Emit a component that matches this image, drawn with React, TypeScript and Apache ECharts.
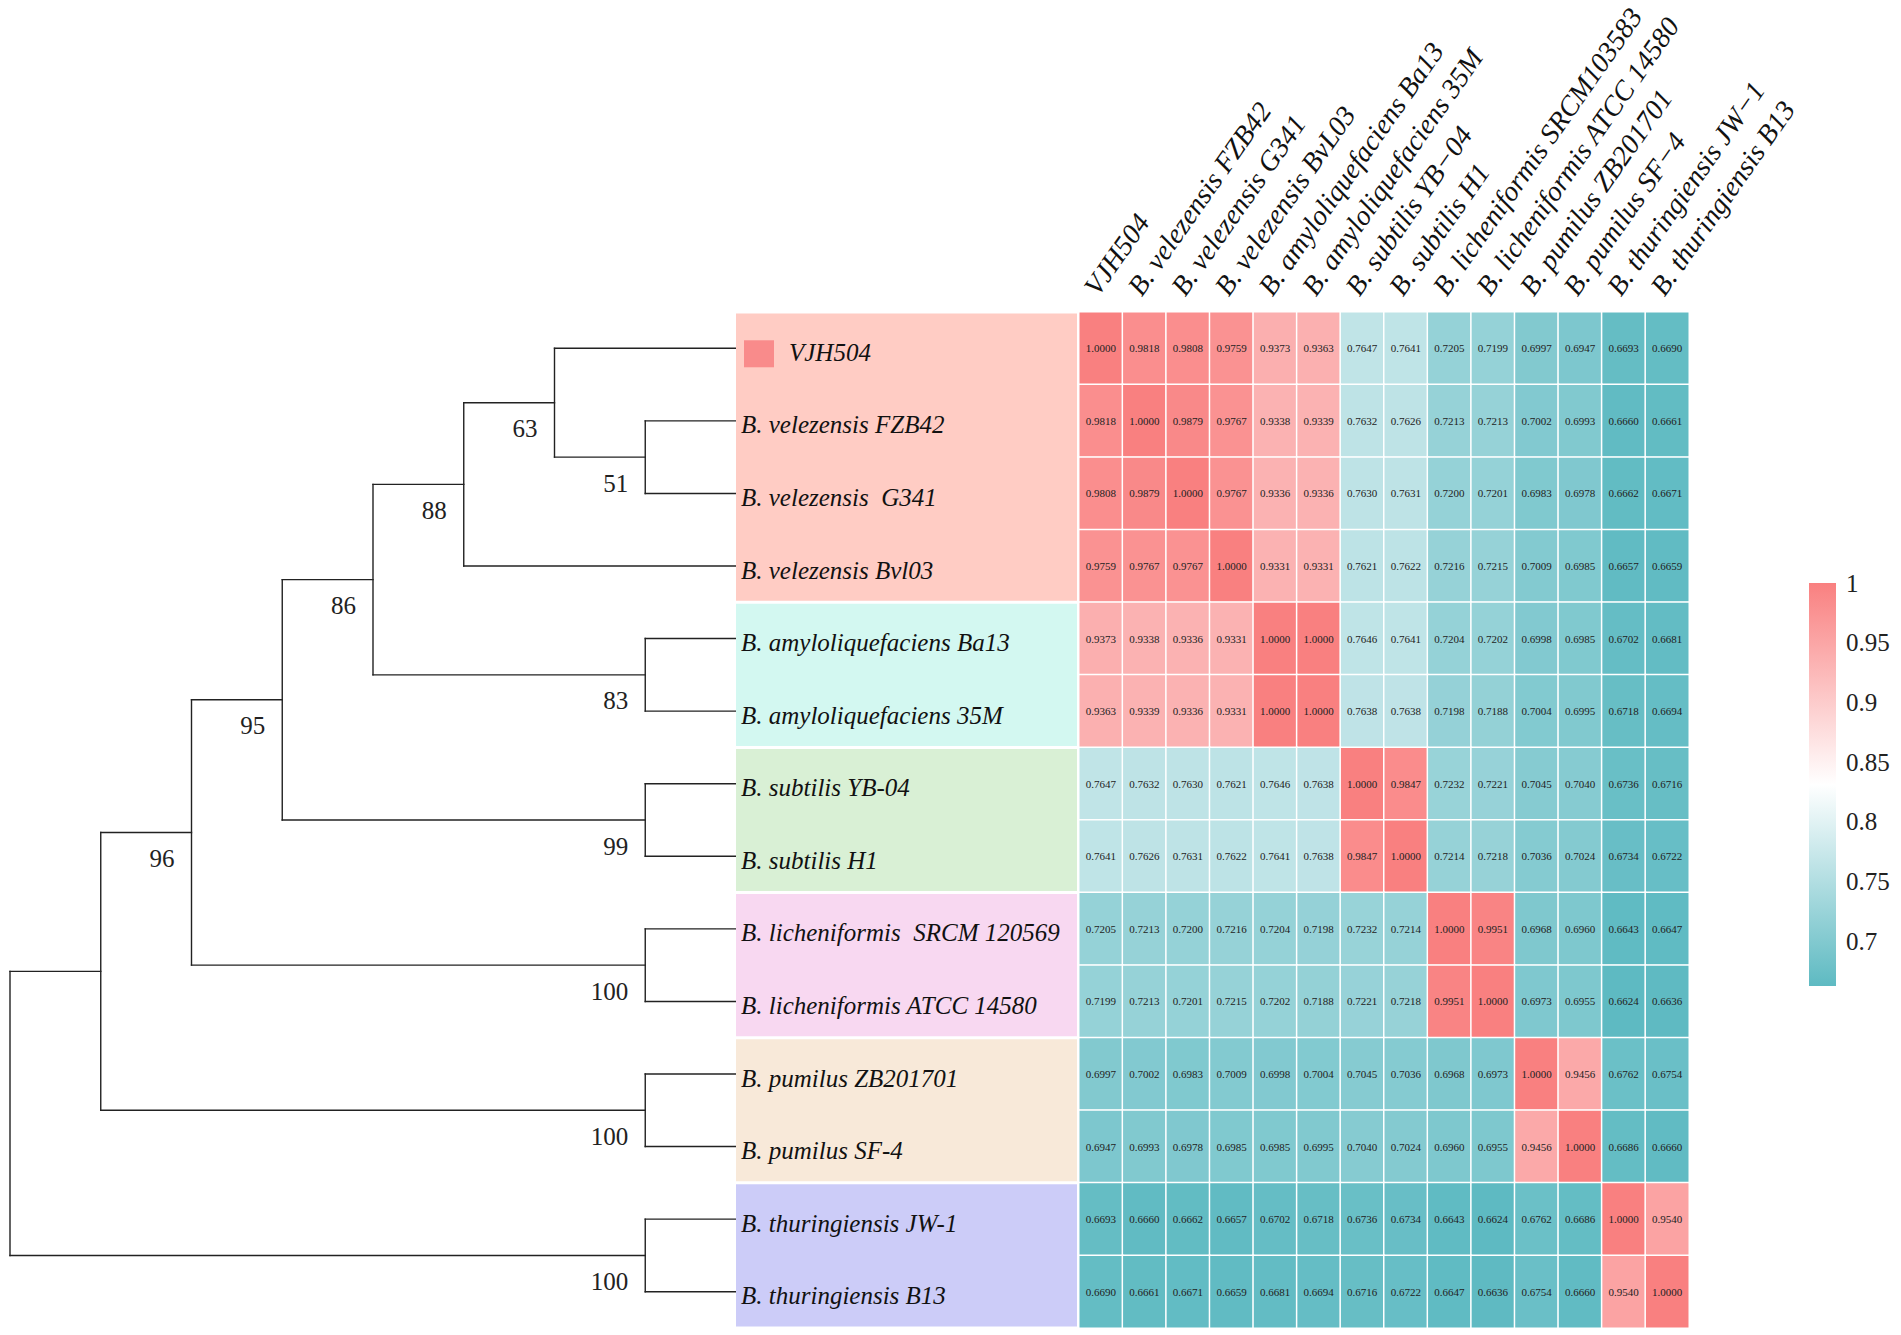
import React, { useEffect, useRef } from "react";
import * as echarts from "echarts";

// ---------- data ----------
const rowLabels = [
  "VJH504",
  "B. velezensis FZB42",
  "B. velezensis  G341",
  "B. velezensis Bvl03",
  "B. amyloliquefaciens Ba13",
  "B. amyloliquefaciens 35M",
  "B. subtilis YB-04",
  "B. subtilis H1",
  "B. licheniformis  SRCM 120569",
  "B. licheniformis ATCC 14580",
  "B. pumilus ZB201701",
  "B. pumilus SF-4",
  "B. thuringiensis JW-1",
  "B. thuringiensis B13",
];

const colLabels = [
  "VJH504",
  "B. velezensis FZB42",
  "B. velezensis G341",
  "B. velezensis BvL03",
  "B. amyloliquefaciens Ba13",
  "B. amyloliquefaciens 35M",
  "B. subtilis YB\u221204",
  "B. subtilis H1",
  "B. licheniformis SRCM103583",
  "B. licheniformis ATCC 14580",
  "B. pumilus ZB201701",
  "B. pumilus SF\u22124",
  "B. thuringiensis JW\u22121",
  "B. thuringiensis B13",
];

const aniRow0 = [1.0, 0.9818, 0.9808, 0.9759, 0.9373, 0.9363, 0.7647, 0.7641, 0.7205, 0.7199, 0.6997, 0.6947, 0.6693, 0.669];
const aniRow1 = [0.9818, 1.0, 0.9879, 0.9767, 0.9338, 0.9339, 0.7632, 0.7626, 0.7213, 0.7213, 0.7002, 0.6993, 0.666, 0.6661];
const aniRow2 = [0.9808, 0.9879, 1.0, 0.9767, 0.9336, 0.9336, 0.763, 0.7631, 0.72, 0.7201, 0.6983, 0.6978, 0.6662, 0.6671];
const aniRow3 = [0.9759, 0.9767, 0.9767, 1.0, 0.9331, 0.9331, 0.7621, 0.7622, 0.7216, 0.7215, 0.7009, 0.6985, 0.6657, 0.6659];
const aniRow4 = [0.9373, 0.9338, 0.9336, 0.9331, 1.0, 1.0, 0.7646, 0.7641, 0.7204, 0.7202, 0.6998, 0.6985, 0.6702, 0.6681];
const aniRow5 = [0.9363, 0.9339, 0.9336, 0.9331, 1.0, 1.0, 0.7638, 0.7638, 0.7198, 0.7188, 0.7004, 0.6995, 0.6718, 0.6694];
const aniRow6 = [0.7647, 0.7632, 0.763, 0.7621, 0.7646, 0.7638, 1.0, 0.9847, 0.7232, 0.7221, 0.7045, 0.704, 0.6736, 0.6716];
const aniRow7 = [0.7641, 0.7626, 0.7631, 0.7622, 0.7641, 0.7638, 0.9847, 1.0, 0.7214, 0.7218, 0.7036, 0.7024, 0.6734, 0.6722];
const aniRow8 = [0.7205, 0.7213, 0.72, 0.7216, 0.7204, 0.7198, 0.7232, 0.7214, 1.0, 0.9951, 0.6968, 0.696, 0.6643, 0.6647];
const aniRow9 = [0.7199, 0.7213, 0.7201, 0.7215, 0.7202, 0.7188, 0.7221, 0.7218, 0.9951, 1.0, 0.6973, 0.6955, 0.6624, 0.6636];
const aniRow10 = [0.6997, 0.7002, 0.6983, 0.7009, 0.6998, 0.7004, 0.7045, 0.7036, 0.6968, 0.6973, 1.0, 0.9456, 0.6762, 0.6754];
const aniRow11 = [0.6947, 0.6993, 0.6978, 0.6985, 0.6985, 0.6995, 0.704, 0.7024, 0.696, 0.6955, 0.9456, 1.0, 0.6686, 0.666];
const aniRow12 = [0.6693, 0.666, 0.6662, 0.6657, 0.6702, 0.6718, 0.6736, 0.6734, 0.6643, 0.6624, 0.6762, 0.6686, 1.0, 0.954];
const aniRow13 = [0.669, 0.6661, 0.6671, 0.6659, 0.6681, 0.6694, 0.6716, 0.6722, 0.6647, 0.6636, 0.6754, 0.666, 0.954, 1.0];
const aniMatrix = [
  aniRow0, aniRow1, aniRow2, aniRow3, aniRow4, aniRow5, aniRow6,
  aniRow7, aniRow8, aniRow9, aniRow10, aniRow11, aniRow12, aniRow13,
];

const groupStarts = [0, 4, 6, 8, 10, 12];
const groupEnds = [3, 5, 7, 9, 11, 13];
const groupColors = ["#FFCCC4", "#D3F8F1", "#D9F0D5", "#F8D8F1", "#F8E9D9", "#CCCCF8"];
const markedRow = 0;

const legendTicks = [0.7, 0.75, 0.8, 0.85, 0.9, 0.95, 1];
const scaleColors = ["#5EBAC2", "#FFFFFF", "#F98080"];

type TreeNode = number | { depth: number; support?: number; children: TreeNode[] };
// cladogram topology (leaves are row indexes), depth = horizontal level, support = bootstrap
const tree: TreeNode = {
  depth: 0,
  children: [
    {
      depth: 1,
      children: [
        {
          depth: 2,
          support: 96,
          children: [
            {
              depth: 3,
              support: 95,
              children: [
                {
                  depth: 4,
                  support: 86,
                  children: [
                    {
                      depth: 5,
                      support: 88,
                      children: [
                        { depth: 6, support: 63, children: [0, { depth: 7, support: 51, children: [1, 2] }] },
                        3,
                      ],
                    },
                    { depth: 7, support: 83, children: [4, 5] },
                  ],
                },
                { depth: 7, support: 99, children: [6, 7] },
              ],
            },
            { depth: 7, support: 100, children: [8, 9] },
          ],
        },
        { depth: 7, support: 100, children: [10, 11] },
      ],
    },
    { depth: 7, support: 100, children: [12, 13] },
  ],
};
const leafDepth = 8;

// ---------- helpers ----------
const FONT = "'Liberation Serif', 'Times New Roman', serif";

function buildTree() {
  const segments: number[][] = [];
  const supports: number[][] = [];
  const walk = (node: TreeNode): { y: number; d: number } => {
    if (typeof node === "number") return { y: node, d: leafDepth };
    const kids = node.children.map(walk);
    const ys = kids.map((k) => k.y);
    const top = Math.min(...ys);
    const bottom = Math.max(...ys);
    segments.push([node.depth, top, node.depth, bottom]);
    kids.forEach((k) => segments.push([node.depth, k.y, k.d, k.y]));
    const mid = (top + bottom) / 2;
    if (node.support !== undefined) supports.push([node.depth, mid, node.support]);
    return { y: mid, d: node.depth };
  };
  walk(tree);
  return { segments, supports };
}

export default function App() {
  const ref = useRef<HTMLDivElement>(null);

  useEffect(() => {
    if (!ref.current) return;
    const chart = echarts.init(ref.current, undefined, { renderer: "svg" });

    const n = rowLabels.length;
    const heatData: number[][] = [];
    aniMatrix.forEach((row, r) => row.forEach((v, c) => heatData.push([c, r, v])));
    const all = aniMatrix.flat();
    const vMin = Math.min(...all);
    const vMax = Math.max(...all);
    const { segments, supports } = buildTree();
    const groupData = groupStarts.map((s, i) => [s, groupEnds[i], i]);
    const labelData = rowLabels.map((_, i) => [i]);

    const top = 312;
    const height = 1016;

    const option: any = {
      animation: false,
      backgroundColor: "#ffffff",
      textStyle: { fontFamily: FONT },
      grid: [
        { left: 1079, top, width: 610, height },
        { left: 10, top, width: 726, height },
        { left: 736, top, width: 341, height },
        { left: 1809, top: 583, width: 27, height: 403 },
        { left: 1080, top, width: 610, height },
      ],
      xAxis: [
        { gridIndex: 0, type: "category", data: colLabels, show: false },
        { gridIndex: 1, type: "value", min: 0, max: leafDepth, show: false },
        { gridIndex: 2, type: "value", min: 0, max: 1, show: false },
        { gridIndex: 3, type: "value", min: 0, max: 1, show: false },
        {
          gridIndex: 4,
          type: "category",
          data: colLabels,
          position: "top",
          axisLine: { show: false },
          axisTick: { show: false },
          splitLine: { show: false },
          axisLabel: {
            interval: 0,
            rotate: 55,
            align: "left",
            verticalAlign: "bottom",
            margin: 12,
            fontSize: 28,
            fontStyle: "italic",
            fontFamily: FONT,
            color: "#111",
          },
        },
      ],
      yAxis: [
        { gridIndex: 0, type: "category", data: rowLabels, inverse: true, show: false },
        { gridIndex: 1, type: "value", min: -0.5, max: n - 0.5, inverse: true, show: false },
        { gridIndex: 2, type: "value", min: -0.5, max: n - 0.5, inverse: true, show: false },
        {
          gridIndex: 3,
          type: "value",
          min: vMin,
          max: vMax,
          position: "right",
          axisLine: { show: false },
          axisTick: { show: false },
          splitLine: { show: false },
          axisLabel: {
            customValues: legendTicks,
            formatter: (v: number) => String(Math.round(v * 100) / 100),
            margin: 10,
            fontSize: 25,
            fontFamily: FONT,
            color: "#222",
          },
        },
        { gridIndex: 4, type: "value", show: false },
      ],
      visualMap: {
        type: "continuous",
        show: false,
        seriesIndex: 0,
        dimension: 2,
        min: vMin,
        max: vMax,
        inRange: { color: scaleColors },
      },
      series: [
        {
          type: "heatmap",
          xAxisIndex: 0,
          yAxisIndex: 0,
          data: heatData,
          itemStyle: { borderColor: "#ffffff", borderWidth: 1.5 },
          label: {
            show: true,
            formatter: (p: any) => Number(p.value[2]).toFixed(4),
            fontSize: 11,
            fontFamily: FONT,
            color: "#222",
          },
          emphasis: { disabled: true },
        },
        {
          type: "custom",
          xAxisIndex: 1,
          yAxisIndex: 1,
          data: segments,
          silent: true,
          renderItem: (_p: any, api: any) => {
            const a = api.coord([api.value(0), api.value(1)]);
            const b = api.coord([api.value(2), api.value(3)]);
            return {
              type: "line",
              shape: { x1: a[0], y1: a[1], x2: b[0], y2: b[1] },
              style: { stroke: "#222", lineWidth: 1.4, lineCap: "square" },
            };
          },
        },
        {
          type: "custom",
          xAxisIndex: 1,
          yAxisIndex: 1,
          data: supports,
          silent: true,
          renderItem: (_p: any, api: any) => {
            const a = api.coord([api.value(0), api.value(1)]);
            return {
              type: "text",
              x: a[0] - 17,
              y: a[1] + 26,
              style: {
                text: String(api.value(2)),
                align: "right",
                verticalAlign: "middle",
                fontSize: 25,
                fontFamily: FONT,
                fill: "#222",
              },
            };
          },
        },
        {
          type: "custom",
          xAxisIndex: 2,
          yAxisIndex: 2,
          data: groupData,
          silent: true,
          renderItem: (_p: any, api: any) => {
            const a = api.coord([0, api.value(0) - 0.5]);
            const b = api.coord([1, api.value(1) + 0.5]);
            return {
              type: "rect",
              shape: { x: a[0], y: a[1] + 1.5, width: b[0] - a[0], height: b[1] - a[1] - 3 },
              style: { fill: groupColors[api.value(2)] },
            };
          },
        },
        {
          type: "custom",
          xAxisIndex: 2,
          yAxisIndex: 2,
          data: labelData,
          silent: true,
          renderItem: (_p: any, api: any) => {
            const idx = api.value(0);
            const a = api.coord([0, idx]);
            const marked = idx === markedRow;
            const text = {
              type: "text",
              x: a[0] + (marked ? 53 : 5),
              y: a[1] + 4,
              style: {
                text: rowLabels[idx],
                align: "left",
                verticalAlign: "middle",
                fontSize: 25,
                fontStyle: "italic",
                fontFamily: FONT,
                fill: "#111",
              },
            };
            if (!marked) return text;
            return {
              type: "group",
              children: [
                {
                  type: "rect",
                  shape: { x: a[0] + 8, y: a[1] - 8, width: 30, height: 27 },
                  style: { fill: "#F98B8B" },
                },
                text,
              ],
            };
          },
        },
        {
          type: "custom",
          xAxisIndex: 3,
          yAxisIndex: 3,
          data: [[0, vMin, 1, vMax]],
          silent: true,
          renderItem: (_p: any, api: any) => {
            const a = api.coord([api.value(0), api.value(3)]);
            const b = api.coord([api.value(2), api.value(1)]);
            return {
              type: "rect",
              shape: { x: a[0], y: a[1], width: b[0] - a[0], height: b[1] - a[1] },
              style: {
                fill: new echarts.graphic.LinearGradient(0, 0, 0, 1, [
                  { offset: 0, color: scaleColors[2] },
                  { offset: 0.5, color: scaleColors[1] },
                  { offset: 1, color: scaleColors[0] },
                ]),
              },
            };
          },
        },
      ],
    };

    chart.setOption(option);
    return () => chart.dispose();
  }, []);

  return (
    <div
      ref={ref}
      style={{ position: "absolute", left: 0, top: 0, width: 1901, height: 1335, background: "#fff" }}
    />
  );
}
